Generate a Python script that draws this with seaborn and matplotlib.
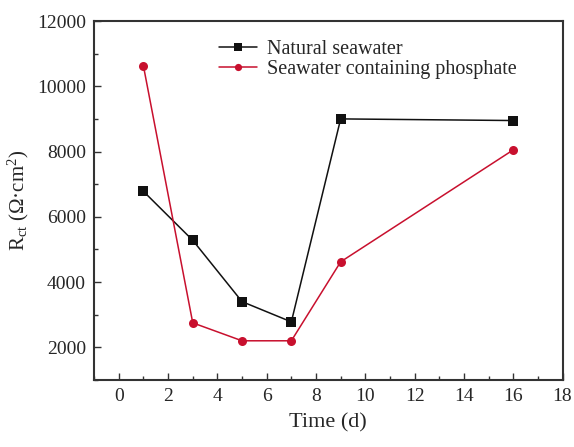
import matplotlib
matplotlib.use("Agg")
import matplotlib.pyplot as plt
import seaborn as sns
import pandas as pd
from matplotlib.ticker import MultipleLocator

time_d = [1, 3, 5, 7, 9, 16]
natural = [6780, 5280, 3400, 2780, 9000, 8950]
phosphate = [10620, 2750, 2200, 2200, 4620, 8050]
series_names = ["Natural seawater", "Seawater containing phosphate"]

df = pd.concat([
    pd.DataFrame({"Time": time_d, "Rct": natural, "Series": series_names[0]}),
    pd.DataFrame({"Time": time_d, "Rct": phosphate, "Series": series_names[1]}),
])

sns.set_theme(style="ticks")
plt.rcParams['font.family'] = ['Liberation Serif', 'DejaVu Serif']
plt.rcParams['mathtext.fontset'] = 'custom'
plt.rcParams['mathtext.rm'] = 'Liberation Serif'
plt.rcParams['mathtext.it'] = 'Liberation Serif:italic'

fig = plt.figure(figsize=(5.74, 4.47), dpi=100)
ax = fig.add_axes([0.164, 0.150, 0.816, 0.803])

sns.lineplot(data=df, x="Time", y="Rct", hue="Series", style="Series",
             palette={series_names[0]: "#111111", series_names[1]: "#c8102e"},
             markers={series_names[0]: "s", series_names[1]: "o"},
             dashes=False, markersize=6.5, linewidth=1.1, markeredgewidth=0,
             ax=ax)

ax.set_xlim(-1, 18)
ax.set_ylim(1000, 12000)
ax.xaxis.set_major_locator(MultipleLocator(2))
ax.xaxis.set_minor_locator(MultipleLocator(1))
ax.yaxis.set_major_locator(MultipleLocator(2000))
ax.yaxis.set_minor_locator(MultipleLocator(1000))
ax.tick_params(which='both', direction='in', labelsize=14, color='#333333', pad=6)
ax.tick_params(which='major', length=5, width=1)
ax.tick_params(which='minor', length=3, width=1)
for s in ax.spines.values():
    s.set_linewidth(1.5)
    s.set_color('#333333')

ax.set_xlabel("Time (d)", fontsize=16, labelpad=6)
ax.set_ylabel("R$_{\\rm ct}$ (Ω·cm$^{2}$)", fontsize=15, labelpad=4)

leg = ax.legend(loc="upper left", bbox_to_anchor=(0.24, 0.98), frameon=False,
                fontsize=14.5, handlelength=1.9, borderaxespad=0.2, labelspacing=0.05,
                handletextpad=0.5, markerscale=0.8)

fig.savefig("out.png", dpi=100)
